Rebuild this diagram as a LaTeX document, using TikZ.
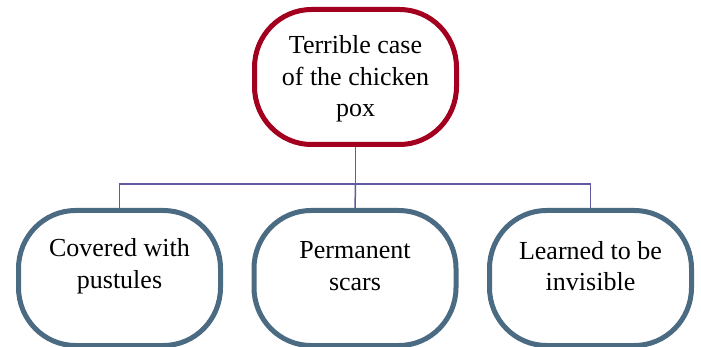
\documentclass[tikz,border=0pt]{standalone}
\usepackage{fontspec}
\setmainfont{Liberation Serif}
\definecolor{topred}{HTML}{A3001F}
\definecolor{boxblue}{HTML}{4A6B82}
\definecolor{linkpurple}{HTML}{5F5AA2}
\newcommand\ebox[4]{% node, colour, half width, half height
  \pgfmathsetmacro\eW{#3}\pgfmathsetmacro\eH{#4}%
  \pgfmathsetmacro\eR{57}\pgfmathsetmacro\eS{58}%
  \pgfmathsetmacro\ekR{0.5523*\eR}\pgfmathsetmacro\ekS{0.5523*\eS}%
  \begin{scope}[shift={(#1.center)}]
  \draw[shapeline, draw=#2] (-\eW+\eR,-\eH) -- (\eW-\eR,-\eH)
    .. controls +(\ekR,0) and +(0,-\ekS) .. (\eW,-\eH+\eS) -- (\eW,\eH-\eS)
    .. controls +(0,\ekS) and +(\ekR,0) .. (\eW-\eR,\eH) -- (-\eW+\eR,\eH)
    .. controls +(-\ekR,0) and +(0,\ekS) .. (-\eW,\eH-\eS) -- (-\eW,-\eH+\eS)
    .. controls +(0,-\ekS) and +(-\ekR,0) .. cycle;
  \end{scope}}
\begin{document}
\begin{tikzpicture}[x=1pt,y=-1pt,
  anchorbox/.style={draw=none, minimum width=202pt, minimum height=135pt, inner sep=0pt},
  shapeline/.style={line width=5pt, fill=white},
  txt/.style={align=center, font=\fontsize{26}{31.5}\selectfont, inner sep=0pt},
  link/.style={draw=linkpurple, line width=1.5pt}]
\useasboundingbox (0,0) rectangle (701,347);
\node[anchorbox] (top) at (355.5,77) {};
\node[anchorbox] (b1) at (119.5,278) {};
\node[anchorbox] (b2) at (355,278) {};
\node[anchorbox] (b3) at (590.5,278) {};
\coordinate (hub) at (355.5,184);
\draw[link] (top.south) -- (hub);
\draw[link] (hub) -| (b1.north);
\draw[link] (hub) -| (b3.north);
\draw[link] (hub) -- (b2.north);
\ebox{top}{topred}{101}{67.5}
\ebox{b1}{boxblue}{101}{67.5}
\ebox{b2}{boxblue}{101}{67.5}
\ebox{b3}{boxblue}{101}{67.5}
\node[txt] (t0) at (355.5,79) {Terrible case\\of the chicken\\pox};
\node[txt] (t1) at (119.5,266) {Covered with\\pustules};
\node[txt] (t2) at (355,266) {Permanent\\scars};
\node[txt] (t3) at (590.5,266) {Learned to be\\invisible};
\end{tikzpicture}
\end{document}
